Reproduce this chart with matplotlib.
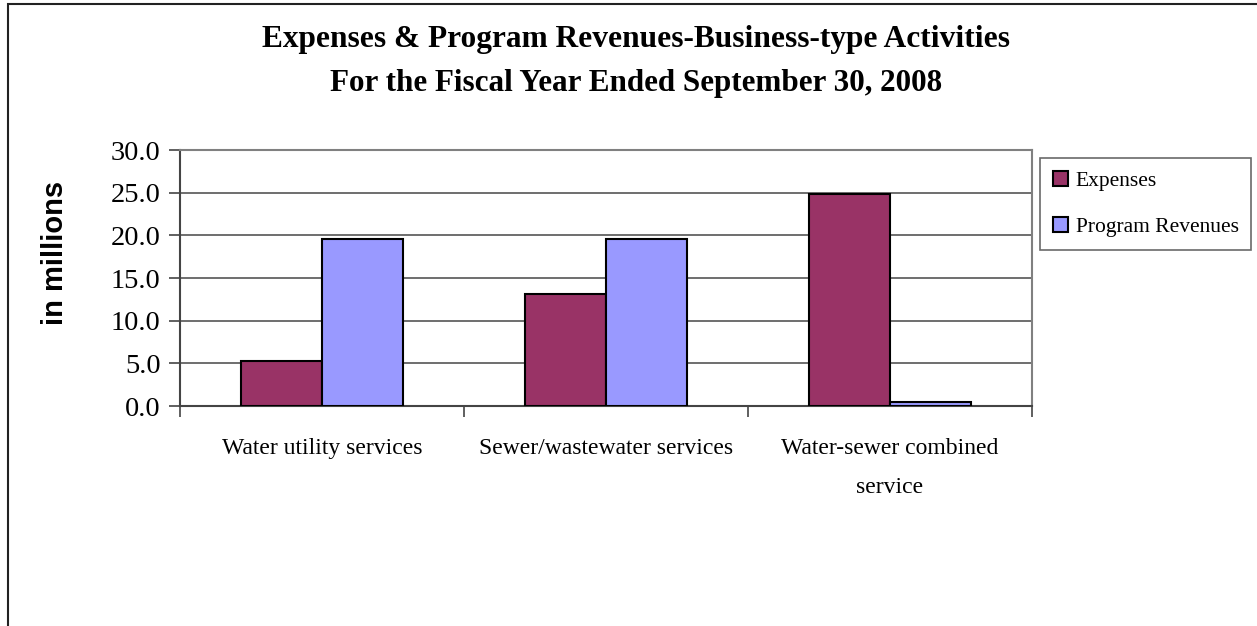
import matplotlib
matplotlib.use("Agg")
import matplotlib.pyplot as plt
import numpy as np
from matplotlib.patches import Rectangle

categories = ["Water utility services", "Sewer/wastewater services", "Water-sewer combined\nservice"]
expenses = [5.3, 13.1, 24.9]
revenues = [19.6, 19.6, 0.5]
yticks = [0.0, 5.0, 10.0, 15.0, 20.0, 25.0, 30.0]

serif = "Liberation Serif"
purple = "#993366"
lilac = "#9999FF"

fig = plt.figure(figsize=(12.57, 6.26), dpi=100)
ax = fig.add_axes([180 / 1257, 1 - 406 / 626, 852 / 1257, 256 / 626])

# outer chart border (only left and top visible in the reference)
fig.patches.append(Rectangle((8 / 1257, -0.1), 1.2, 0.1 + 1 - 4 / 626,
                             transform=fig.transFigure, fill=False,
                             edgecolor="#222222", linewidth=1.5))

x = np.arange(len(categories)) + 0.5
w = 1 / 3.5
ax.bar(x - w / 2, expenses, w, color=purple, edgecolor="black", linewidth=1.5,
       label="Expenses", zorder=3)
ax.bar(x + w / 2, revenues, w, color=lilac, edgecolor="black", linewidth=1.5,
       label="Program Revenues", zorder=3)

ax.set_xlim(0, 3)
ax.set_ylim(0, 30)
ax.set_yticks(yticks)
ax.set_yticklabels([f"{v:.1f}" for v in yticks], fontfamily=serif, fontsize=20.5)
ax.yaxis.grid(True, color="#555555", linewidth=1.2, zorder=0)
ax.tick_params(axis="y", direction="out", length=8, width=1.2, color="#444444", pad=6)

ax.set_xticks([0, 1, 2, 3])
ax.set_xticklabels([])
ax.tick_params(axis="x", direction="out", length=8, width=1.2, color="#444444")
for xi, lab in zip(x, categories):
    ax.text(xi, -3.8, lab, ha="center", va="top", fontfamily=serif,
            fontsize=17, linespacing=2.08, transform=ax.transData)

for s in ax.spines.values():
    s.set_color("#808080")
    s.set_linewidth(1.5)
ax.spines["bottom"].set_color("#444444")
ax.spines["left"].set_color("#444444")

fig.text(55 / 1257, 1 - 253 / 626, "in millions", rotation=90, ha="center",
         va="center", fontfamily="Liberation Sans", fontweight="bold", fontsize=21)

fig.text(0.506, 1 - 40 / 626, "Expenses & Program Revenues-Business-type Activities",
         ha="center", va="center", fontfamily=serif, fontweight="bold", fontsize=22.6)
fig.text(0.506, 1 - 83 / 626, "For the Fiscal Year Ended September 30, 2008",
         ha="center", va="center", fontfamily=serif, fontweight="bold", fontsize=22.4)

leg = ax.legend(loc="upper left", bbox_to_anchor=(1040 / 1257, 1 - 158 / 626),
                bbox_transform=fig.transFigure, prop={"family": serif, "size": 15.5},
                frameon=True, fancybox=False, handlelength=0.7, handleheight=0.7,
                handletextpad=0.35, labelspacing=1.2, borderpad=0.6,
                borderaxespad=0)
leg.get_frame().set_edgecolor("#444444")
leg.get_frame().set_linewidth(1.2)

fig.savefig("out.png", dpi=100, facecolor="white")
